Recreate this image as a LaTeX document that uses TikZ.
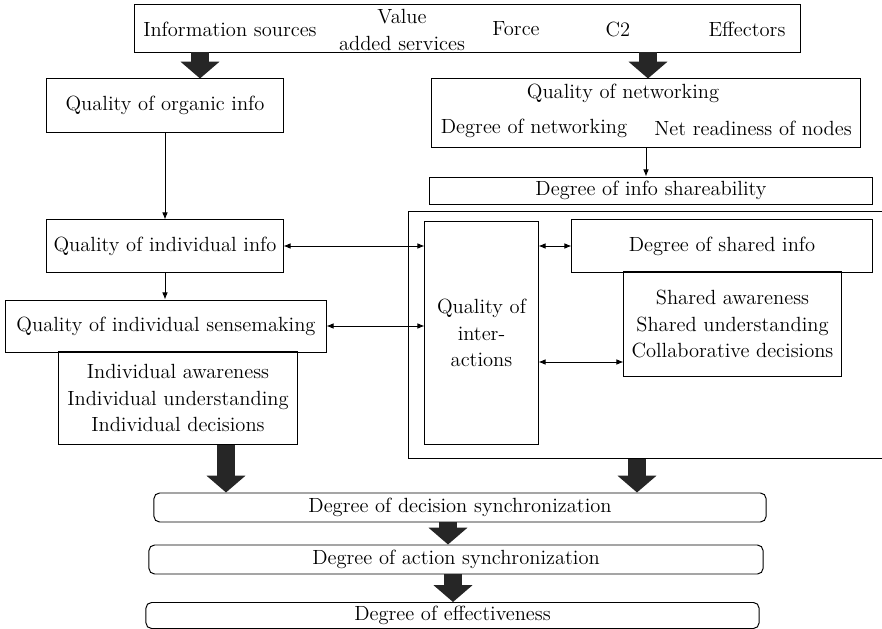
\documentclass[tikz,border=0pt]{standalone}
\usepackage{amsmath}
\usepackage{tikz}
\usetikzlibrary{arrows.meta}
\tikzset{
  blk/.style={draw,line width=0.7pt,inner sep=0pt,align=center},
  rblk/.style={blk,rounded corners=4pt},
  sz/.style 2 args={minimum width=#1cm,minimum height=#2cm},
  fat/.style={draw=black!85,line width=0.45cm,-{Triangle[length=0.42cm,width=0.95cm]}},
  onearr/.style={line width=0.6pt,-{Latex[length=5pt,width=4pt]}},
  twoarr/.style={line width=0.6pt,{Latex[length=5pt,width=4pt]}-{Latex[length=5pt,width=4pt]}}
}

\begin{document}
\begin{tikzpicture}[x=0.025cm,y=-0.025cm,font=\fontsize{14.6}{18.6}\selectfont]
\useasboundingbox(0,0)rectangle(882,629);
% top bar
\node[blk,sz={16.625}{1.175}](bar)at(467.5,28.5){};
\node(src)at(230,29){Information sources};\node[align=center](vas)at(402,30){Value\\added services};
\node(frc)at(516,29){Force};\node(ctwo)at(618,29){C2};\node(eff)at(747,29){Effectors};
% individual column
\node[blk,sz={5.9}{1.325}](orgn)at(165,105.5){Quality of organic info};
\node[blk,sz={5.9}{1.3}](indiv)at(165,246){Quality of individual info};
\node[blk,sz={8}{1.3}](sense)at(166,326){Quality of individual sensemaking};
\node[blk,sz={5.95}{2.3}](aware)at(178,398){Individual awareness\\Individual understanding\\Individual decisions};
% networking column
\node[blk,sz={10.7}{1.7}](netw)at(646,113){};
\node(qn)at(623,93){Quality of networking};\node(dn)at(534,128){Degree of networking};\node(nr)at(753,128){Net readiness of nodes};
\node[blk,sz={11.05}{0.675}](share)at(651,190.5){Degree of info shareability};
\draw[line width=0.7pt](882,211)--(408,211)--(408,458)--(882,458);
\node[blk,sz={2.825}{5.55}](inter)at(481.5,333){Quality of\\inter-\\actions};
\node[blk,sz={7.5}{1.3}](shinfo)at(722,246){Degree of shared info};
\node[blk,sz={5.425}{2.6}](shaware)at(732.5,324){Shared awareness\\Shared understanding\\Collaborative decisions};
% synchronization chain
\node[rblk,sz={15.3}{0.725}](dec)at(460,507.5){Degree of decision synchronization};
\node[rblk,sz={15.35}{0.725}](act)at(456,559.5){Degree of action synchronization};
\node[rblk,sz={15.325}{0.65}](effv)at(452.5,615.5){Degree of effectiveness};
% connectors
\coordinate(c1)at(200,0);\coordinate(c2)at(648,0);\coordinate(c3)at(226,0);\coordinate(c4)at(637,0);\coordinate(c5)at(0,362);
\draw[fat](bar.south-|c1)--(orgn.north-|c1);
\draw[fat](bar.south-|c2)--(netw.north-|c2);
\draw[fat](aware.south-|c3)--(dec.north-|c3);
\draw[fat](c4|-inter.south)++(0,14)--(dec.north-|c4);
\draw[fat](dec.south-|448,0)--(act.north-|448,0);
\draw[fat](act.south-|453,0)--(effv.north-|453,0);
\draw[onearr](orgn)--(indiv);
\draw[onearr](indiv.south)--(indiv.south|-sense.north);
\draw[onearr](netw.south)--(netw.south|-share.north);
\draw[twoarr](indiv.east)--(inter.west|-indiv.east);
\draw[twoarr](sense.east)--(inter.west|-sense.east);
\draw[twoarr](inter.east|-shinfo.west)--(shinfo.west);
\draw[twoarr](inter.east|-c5)--(shaware.west|-c5);
\end{tikzpicture}
\end{document}
